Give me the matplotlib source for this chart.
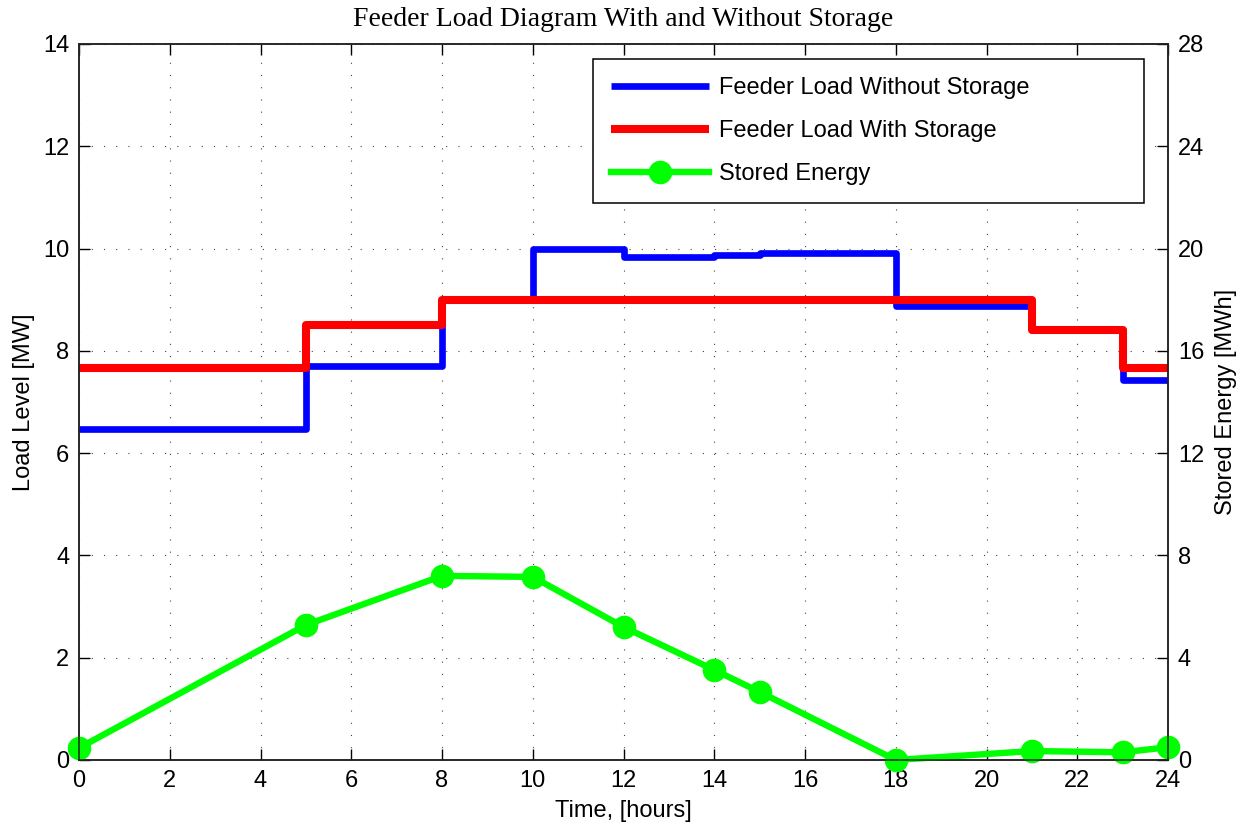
import numpy as np
import matplotlib
matplotlib.use('Agg')
import matplotlib.pyplot as plt

plt.rcParams['font.family'] = ['Liberation Sans', 'DejaVu Sans']

# 区間の境界（時刻）
hours = [0, 5, 8, 10, 12, 14, 15, 18, 21, 23, 24]
# 各区間の負荷 [MW]（最後の値は終端用に繰り返す）
load_without = [6.47, 7.70, 9.00, 10.00, 9.84, 9.88, 9.91, 8.87, 8.40, 7.43, 7.43]
load_with = [7.67, 8.50, 9.00, 9.00, 9.00, 9.00, 9.00, 9.00, 8.40, 7.67, 7.67]
# 蓄電量 [MWh]
stored = [0.47, 5.28, 7.20, 7.16, 5.20, 3.52, 2.66, 0.00, 0.35, 0.30, 0.50]

fs = 17

fig = plt.figure(figsize=(12.43, 8.25), dpi=100)
ax = fig.add_axes([0.0636, 0.0788, 0.8761, 0.8679])
ax2 = ax.twinx()

l1, = ax.step(hours, load_without, where='post', color='#0000ff', lw=4.8,
              solid_joinstyle='round', solid_capstyle='butt', label='Feeder Load Without Storage')
l2, = ax.step(hours, load_with, where='post', color='#ff0000', lw=5.8,
              solid_joinstyle='round', solid_capstyle='butt', label='Feeder Load With Storage')
l3, = ax2.plot(hours, stored, color='#00ff00', lw=4.6, marker='o', ms=16,
               solid_joinstyle='round', clip_on=False, label='Stored Energy')

ax.set_xlim(0, 24)
ax.set_ylim(0, 14)
ax.set_xticks(np.arange(0, 25, 2))
ax.set_yticks(np.arange(0, 15, 2))
ax2.set_ylim(0, 28)
ax2.set_yticks(np.arange(0, 29, 4))

ax.grid(True, color='#444444', linestyle=(0, (1, 10)), linewidth=0.8)
ax.tick_params(direction='in', length=8, width=1, labelsize=fs, pad=7,
               top=True, right=False)
ax2.tick_params(direction='in', length=8, width=1, labelsize=fs, pad=7)
for a in (ax, ax2):
    for s in a.spines.values():
        s.set_linewidth(1.1)
        s.set_color('#222222')

ax.set_xlabel('Time, [hours]', fontsize=fs, labelpad=6)
ax.set_ylabel('Load Level [MW]', fontsize=fs, labelpad=6)
ax2.set_ylabel('Stored Energy [MWh]', fontsize=fs, labelpad=8)
ax.set_title('Feeder Load Diagram With and Without Storage',
             fontfamily='Liberation Serif', fontsize=20, pad=13)

leg = ax2.legend(handles=[l1, l2, l3], loc='upper right',
                 bbox_to_anchor=(0.472, 0.5, 0.506, 0.479), mode='expand',
                 borderaxespad=0, fontsize=fs, handlelength=4.15,
                 handletextpad=0.42, labelspacing=0.88, borderpad=0.78,
                 fancybox=False, framealpha=1, edgecolor='black')
leg.get_frame().set_linewidth(1.1)

fig.savefig('out.png', dpi=100)
